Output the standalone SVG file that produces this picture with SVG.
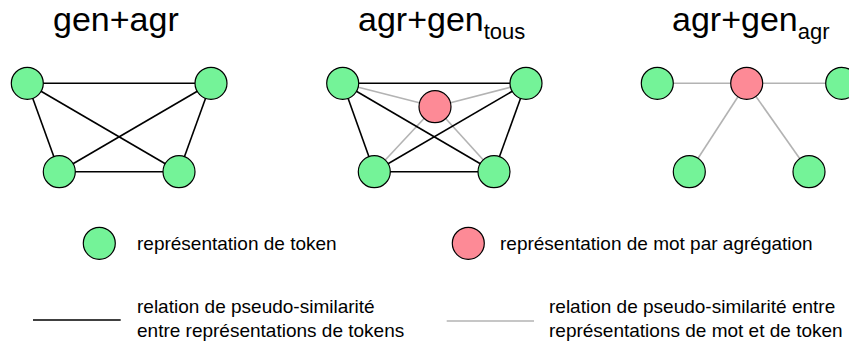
<svg xmlns="http://www.w3.org/2000/svg" width="849" height="349" viewBox="0 0 849 349">
<style>
.tok{fill:#74f398;stroke:#000;stroke-width:1.2}
.mot{fill:#fd8a96;stroke:#000;stroke-width:1.2}
.blk{stroke:#000;stroke-width:1.6;fill:none}
.gry{stroke:#b3b3b3;stroke-width:1.6;fill:none}
.title{font-family:"Liberation Sans",Arial,sans-serif;font-size:34px;fill:#000}
.sub{font-size:22px}
.leg{font-family:"Liberation Sans",Arial,sans-serif;font-size:19px;fill:#000}
</style>
<rect width="849" height="349" fill="#fff"/>
<text class="title" x="53" y="31">gen+agr</text>
<text class="title" x="358" y="31">agr+gen<tspan class="sub" dy="8">tous</tspan></text>
<text class="title" x="672" y="31">agr+gen<tspan class="sub" dy="8">agr</tspan></text>
<g id="connectors">
<line class="blk" x1="27.3" y1="83.3" x2="211" y2="83.3"/>
<line class="blk" x1="27.3" y1="83.3" x2="59.3" y2="171.7"/>
<line class="blk" x1="27.3" y1="83.3" x2="179" y2="171.7"/>
<line class="blk" x1="211" y1="83.3" x2="59.3" y2="171.7"/>
<line class="blk" x1="211" y1="83.3" x2="179" y2="171.7"/>
<line class="blk" x1="59.3" y1="171.7" x2="179" y2="171.7"/>
<line class="gry" x1="342.7" y1="83.3" x2="435" y2="106.7"/>
<line class="gry" x1="526" y1="83.3" x2="435" y2="106.7"/>
<line class="gry" x1="374.3" y1="171.7" x2="435" y2="106.7"/>
<line class="gry" x1="494" y1="171.7" x2="435" y2="106.7"/>
<line class="blk" x1="342.7" y1="83.3" x2="526" y2="83.3"/>
<line class="blk" x1="342.7" y1="83.3" x2="374.3" y2="171.7"/>
<line class="blk" x1="342.7" y1="83.3" x2="494" y2="171.7"/>
<line class="blk" x1="526" y1="83.3" x2="374.3" y2="171.7"/>
<line class="blk" x1="526" y1="83.3" x2="494" y2="171.7"/>
<line class="blk" x1="374.3" y1="171.7" x2="494" y2="171.7"/>
<line class="gry" x1="657.3" y1="83.3" x2="746.7" y2="83.3"/>
<line class="gry" x1="746.7" y1="83.3" x2="841.7" y2="83.3"/>
<line class="gry" x1="746.7" y1="83.3" x2="689.3" y2="171.7"/>
<line class="gry" x1="746.7" y1="83.3" x2="809" y2="171.7"/>
<line class="blk" x1="33" y1="320" x2="120.7" y2="320"/>
<line class="gry" x1="446.7" y1="321" x2="534" y2="321"/>
</g>
<g id="p1-tl"><circle class="tok" cx="27.3" cy="83.3" r="16"/></g>
<g id="p1-tr"><circle class="tok" cx="211" cy="83.3" r="16"/></g>
<g id="p1-bl"><circle class="tok" cx="59.3" cy="171.7" r="16"/></g>
<g id="p1-br"><circle class="tok" cx="179" cy="171.7" r="16"/></g>
<g id="p2-tl"><circle class="tok" cx="342.7" cy="83.3" r="16"/></g>
<g id="p2-tr"><circle class="tok" cx="526" cy="83.3" r="16"/></g>
<g id="p2-m"><circle class="mot" cx="435" cy="106.7" r="16"/></g>
<g id="p2-bl"><circle class="tok" cx="374.3" cy="171.7" r="16"/></g>
<g id="p2-br"><circle class="tok" cx="494" cy="171.7" r="16"/></g>
<g id="p3-l"><circle class="tok" cx="657.3" cy="83.3" r="16"/></g>
<g id="p3-m"><circle class="mot" cx="746.7" cy="83.3" r="16"/></g>
<g id="p3-r"><circle class="tok" cx="841.7" cy="83.3" r="16"/></g>
<g id="p3-bl"><circle class="tok" cx="689.3" cy="171.7" r="16"/></g>
<g id="p3-br"><circle class="tok" cx="809" cy="171.7" r="16"/></g>
<g id="leg-tok"><circle class="tok" cx="99.3" cy="243.3" r="16"/>
<text class="leg" x="137" y="250">représentation de token</text></g>
<g id="leg-mot"><circle class="mot" cx="468.3" cy="243.3" r="16"/>
<text class="leg" x="500" y="250">représentation de mot par agrégation</text></g>
<g id="leg-blk"><text class="leg" x="137" y="313">relation de pseudo-similarité</text>
<text class="leg" x="137" y="337">entre représentations de tokens</text></g>
<g id="leg-gry"><text class="leg" x="549" y="313">relation de pseudo-similarité entre</text>
<text class="leg" x="549" y="337">représentations de mot et de token</text></g>
</svg>
